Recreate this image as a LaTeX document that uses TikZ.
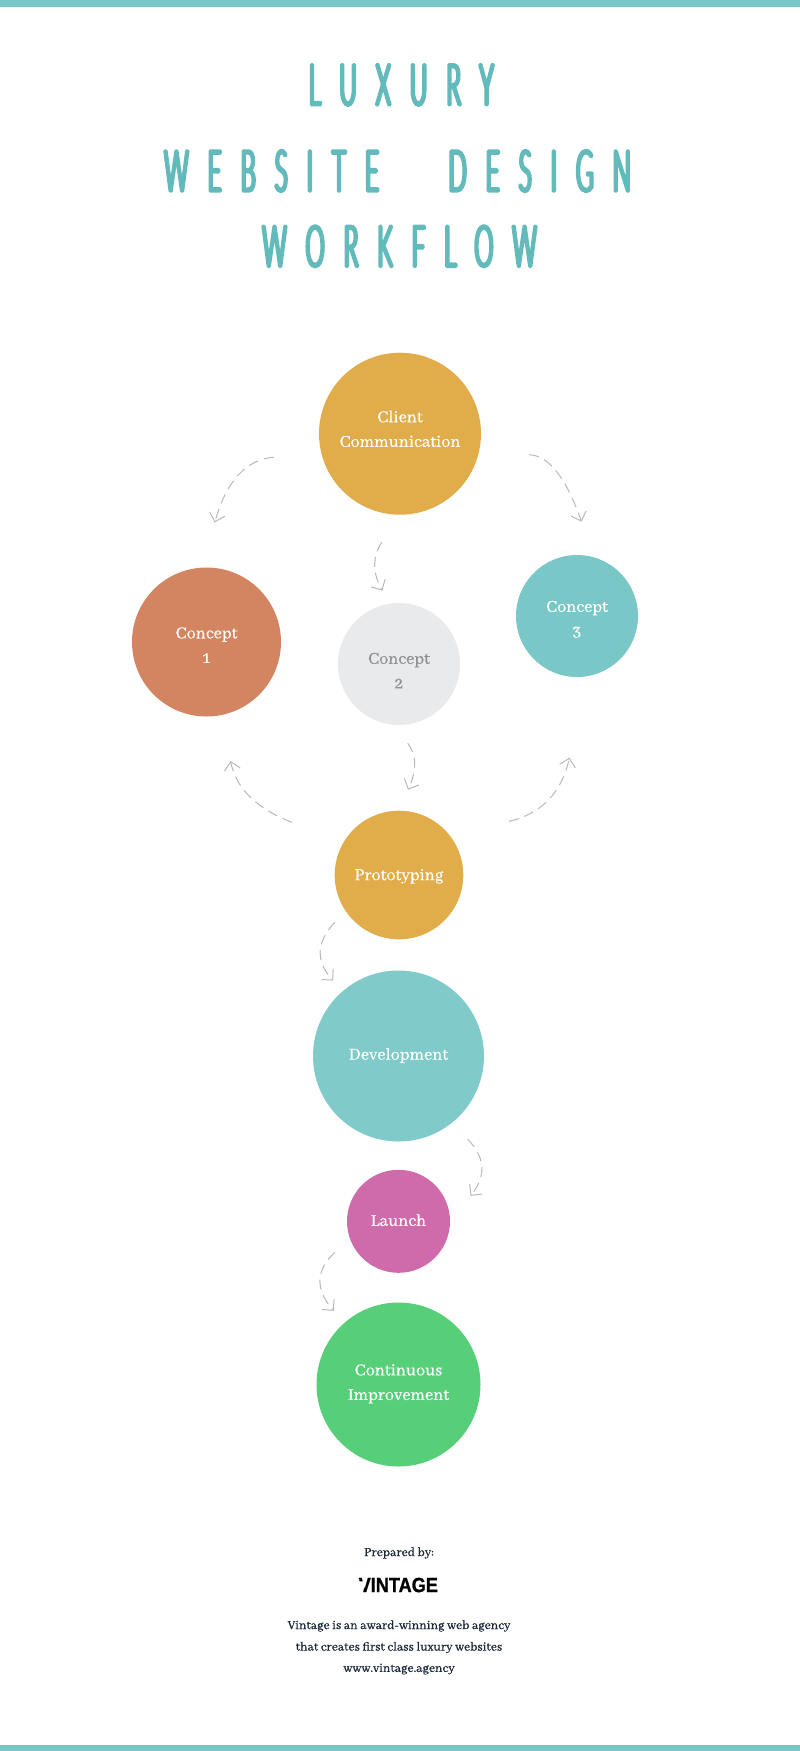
\documentclass[tikz,border=0pt]{standalone}
\usepackage{fontspec}
\usetikzlibrary{arrows.meta}
\setmainfont{Abhaya Libre}[FakeBold=0.7]
\newfontfamily\titlefont[FakeStretch=0.42,FakeBold=5.5,LetterSpace=33.5]{Lato Light}
\newfontfamily\logofont[FakeStretch=0.88,FakeBold=1]{Liberation Sans Bold}
\definecolor{barteal}{HTML}{79C8C7}
\definecolor{titleteal}{HTML}{63BABA}
\definecolor{gold}{HTML}{E1AC4A}
\definecolor{terra}{HTML}{D38460}
\definecolor{palegrey}{HTML}{E9EAEC}
\definecolor{devteal}{HTML}{80CACA}
\definecolor{pink}{HTML}{CF6BAB}
\definecolor{leaf}{HTML}{57CF78}
\definecolor{conngrey}{HTML}{B8B8B8}
\definecolor{greytext}{HTML}{8E9093}
\definecolor{navy}{HTML}{1B2638}
\newcommand\bt[2]{\makebox[0pt]{\raisebox{#1}[0pt][0pt]{\begin{tabular}[c]{@{}c@{}}#2\end{tabular}}}}
\pgfdeclarearrow{
  name=Chev,
  setup code={\pgfarrowssettipend{0pt}\pgfarrowssetlineend{-1pt}\pgfarrowssetvisualbackend{-8pt}\pgfarrowssetbackend{-8pt}},
  drawing code={\pgfsetdash{}{0pt}\pgfsetlinewidth{1pt}\pgfsetmiterjoin
    \pgfpathmoveto{\pgfqpoint{-8pt}{8pt}}\pgfpathlineto{\pgfqpoint{0pt}{0pt}}\pgfpathlineto{\pgfqpoint{-8pt}{-8pt}}\pgfusepathqstroke},
  cache=false
}
\tikzset{
  x=1pt,y=-1pt,
  bubble/.style={circle,inner sep=0pt,minimum size=#1*2pt,text=white,font=\fontsize{18.2}{24.6}\selectfont},
  conn/.style={draw=conngrey,line width=1pt,dash pattern=on 10pt off 6pt,-Chev},
  titletext/.style={text=titleteal,inner sep=0pt,font=\fontsize{57}{57}\titlefont},
  foot/.style={text=navy,inner sep=0pt,font=\fontsize{13.5}{13.5}\selectfont},
}
\begin{document}
\begin{tikzpicture}
\useasboundingbox (0,0) rectangle (800,1751);
\fill[barteal] (0,0) rectangle (800,7);
\fill[barteal] (0,1745) rectangle (800,1751);
\begin{scope}[line join=bevel]
\node[titletext] (t1) at (401.3,85) {LUXURY};
\node[titletext] (t2) at (397.5,171) {WEBSITE\hspace{44pt} DESIGN};
\node[titletext] (t3) at (399.5,246.3) {WORKFLOW};
\end{scope}

\node[bubble=81,fill=gold] (client) at (400,433.7) {\bt{-0.2pt}{Client\\Communication}};
\node[bubble=74.5,fill=terra] (c1) at (206.5,642) {\bt{-8pt}{Concept\\1}};
\node[bubble=61,fill=palegrey,text=greytext] (c2) at (399,664) {\bt{-11.5pt}{Concept\\2}};
\node[bubble=61,fill=barteal] (c3) at (577,616) {\bt{-7.5pt}{Concept\\3}};
\node[bubble=64.3,fill=gold] (proto) at (399,875) {\bt{-4.5pt}{Prototyping}};
\node[bubble=85.5,fill=devteal] (dev) at (398.5,1056) {\bt{-3pt}{Development}};
\node[bubble=51.5,fill=pink] (launch) at (398.5,1221.3) {\bt{-4pt}{Launch}};
\node[bubble=82,fill=leaf] (cont) at (398.5,1384.5) {\bt{-2.5pt}{Continuous\\Improvement}};

\coordinate (a0) at (273.7,457.3); \coordinate (a1) at (215,521.7);
\coordinate (b0) at (381.7,542.3); \coordinate (b1) at (382,590);
\coordinate (c0) at (529,454.7);   \coordinate (c1e) at (581.3,521);
\coordinate (d0) at (291.7,822.3); \coordinate (d1) at (230.7,761.7);
\coordinate (e0) at (407.7,743.3); \coordinate (e1) at (408.3,789);
\coordinate (f0) at (509,821.3);   \coordinate (f1) at (569.3,758.3);
\coordinate (g0) at (334.7,922.3); \coordinate (g1) at (332.7,980);
\coordinate (h0) at (467.7,1139.3);\coordinate (h1) at (471,1195.3);
\coordinate (i0) at (335,1252.3);  \coordinate (i1) at (333.3,1310.3);
\draw[conn] (a0) .. controls (246.1,459.4) and (226.5,480.9) .. (a1);
\draw[conn] (b0) .. controls (372.3,556.7) and (372.4,572.6) .. (b1);
\draw[conn] (c0) .. controls (548.5,455.3) and (565.9,477.4) .. (c1e);
\draw[conn] (d0) .. controls (256.4,808.4) and (236.1,788.2) .. (d1);
\draw[conn] (e0) .. controls (416.8,754.7) and (417,770) .. (e1);
\draw[conn] (f0) .. controls (541.3,813.9) and (561.4,792.9) .. (f1);
\draw[conn] (g0) .. controls (316.2,942.3) and (315.5,961.5) .. (g1);
\draw[conn] (h0) .. controls (485.3,1157.2) and (486.4,1175.8) .. (h1);
\draw[conn] (i0) .. controls (315.6,1269.9) and (315,1289.2) .. (i1);

\node[foot] (prep) at (399,1553) {Prepared by:};
\node[text=black,inner sep=0pt,font=\fontsize{20.6}{20.6}\logofont] (logo) at (398.3,1585) {VINTAGE};
\fill[white] (357,1581.3) -- (365.8,1581.3) -- (362.6,1593.5) -- (357,1593.5) -- cycle;
\node[foot] (f1t) at (399,1626) {Vintage is an award-winning web agency};
\node[foot] (f2t) at (399,1647.5) {that creates first class luxury websites};
\node[foot] (f3t) at (399,1669) {www.vintage.agency};
\end{tikzpicture}
\end{document}
